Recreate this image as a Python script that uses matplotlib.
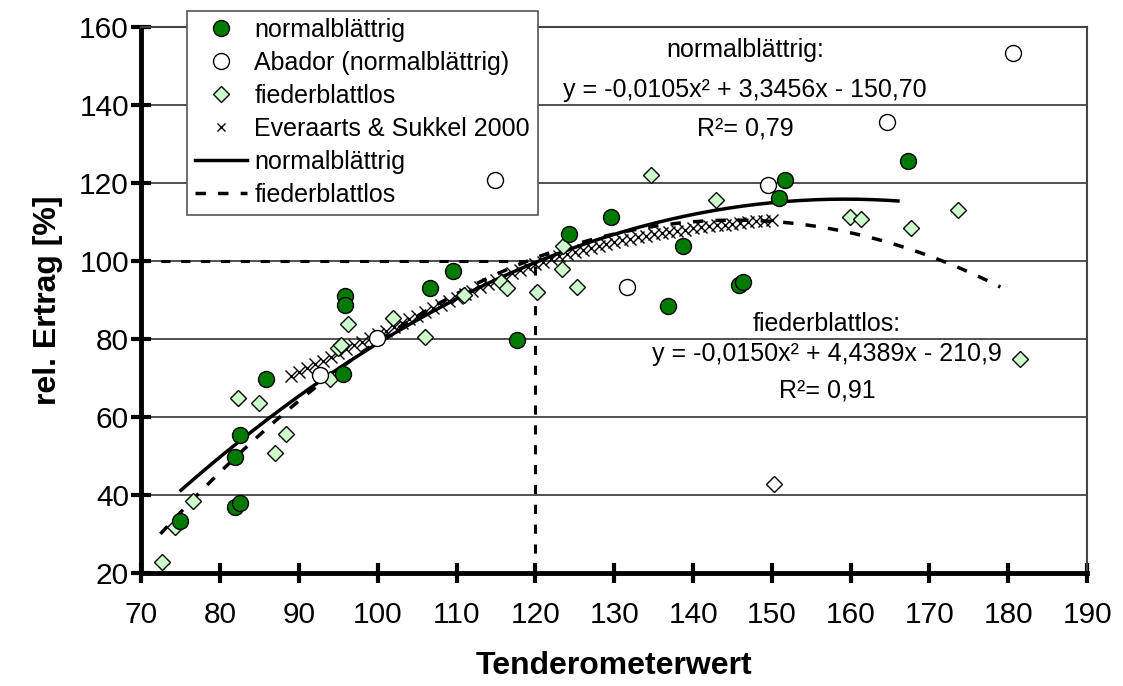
import matplotlib.pyplot as plt
from matplotlib.lines import Line2D
import numpy as np

plt.rcParams['font.family'] = ['Liberation Sans', 'DejaVu Sans']

# normalblättrige Sorten
normal_x = [74.9, 81.9, 82.5, 81.9, 82.5, 85.8, 95.8, 95.8, 95.6, 106.6, 109.5,
            117.7, 124.3, 129.6, 136.8, 138.7, 145.8, 146.3, 150.9, 151.7, 167.3]
normal_y = [33.2, 49.8, 55.4, 36.8, 37.8, 69.7, 90.9, 88.6, 71.0, 93.0, 97.3,
            79.7, 106.8, 111.1, 88.4, 103.7, 93.7, 94.5, 116.0, 120.6, 125.6]

# Abador
abador_x = [92.7, 99.9, 114.9, 131.6, 149.5, 164.6, 180.6]
abador_y = [70.8, 80.2, 120.8, 93.2, 119.5, 135.6, 153.2]

# fiederblattlose Sorten
fieder_x = [72.6, 74.3, 76.5, 82.2, 84.9, 86.9, 88.3, 93.9, 94.9, 95.3, 96.2,
            101.9, 106.0, 110.9, 115.6, 116.4, 120.2, 123.4, 123.5, 125.3,
            134.7, 142.9, 159.9, 161.3, 167.7, 173.6, 181.5]
fieder_y = [22.7, 31.7, 38.3, 64.8, 63.6, 50.6, 55.7, 69.7, 77.7, 78.4, 83.8,
            85.3, 80.5, 91.2, 94.5, 93.0, 91.9, 97.8, 103.9, 93.2,
            122.1, 115.7, 111.1, 110.8, 108.3, 113.1, 74.8]
fieder_weiss_x = [150.3]
fieder_weiss_y = [42.7]

# Everaarts & Sukkel 2000
ev_x = list(range(89, 151))
ev_y = [70.5, 71.5, 72.5, 73.5, 74.4, 75.4, 76.4, 77.3, 78.3, 79.3, 80.2,
        81.2, 82.1, 83.1, 84.0, 85.0, 85.9, 86.8, 87.8, 88.7, 89.6,
        90.5, 91.4, 92.3, 93.2, 94.1, 95.0, 95.9, 96.8, 97.6, 98.4,
        99.1, 99.8, 100.5, 101.1, 101.7, 102.3, 102.8, 103.3, 103.8, 104.3,
        104.8, 105.2, 105.6, 106.0, 106.4, 106.8, 107.1, 107.4, 107.7, 108.0,
        108.3, 108.6, 108.9, 109.1, 109.3, 109.5, 109.7, 109.9, 110.1, 110.3,
        110.5]

# Trendlinien (Polynom 2. Grades)
normal_coef = [-0.0105, 3.3456, -150.70]
normal_range = [75, 166]
fieder_coef = [-0.01513, 4.3975, -209.1]
fieder_range = [72.4, 179]

green = '#007A00'
light = '#CCFFCC'

fig = plt.figure(figsize=(11.23, 6.86), dpi=100)
ax = fig.add_axes([0.126, 0.165, 0.842, 0.796])

ax.set_xlim(70, 190)
ax.set_ylim(20, 160)
ax.set_xticks(range(70, 191, 10))
ax.set_yticks(range(20, 161, 20))
ax.yaxis.grid(True, color='#333333', lw=1.2, zorder=0)
ax.set_axisbelow(True)

for s in ['left', 'bottom']:
    ax.spines[s].set_linewidth(3.5)
for s in ['top', 'right']:
    ax.spines[s].set_linewidth(1.5)
    ax.spines[s].set_color('#444444')
ax.tick_params(direction='inout', length=14, width=3, labelsize=21.5)
ax.tick_params(axis='x', pad=13)
ax.tick_params(axis='y', pad=2)

# Hilfslinien bei 120 / 100 %
ax.plot([70, 120], [100, 100], color='k', lw=2.2, dashes=(3, 3.5), zorder=2)
ax.plot([120, 120], [20, 100], color='k', lw=2.2, dashes=(3, 3.5), zorder=2)

xn = np.linspace(normal_range[0], normal_range[1], 200)
ax.plot(xn, np.polyval(normal_coef, xn), color='k', lw=2.5, zorder=4)
xf = np.linspace(fieder_range[0], fieder_range[1], 200)
ax.plot(xf, np.polyval(fieder_coef, xf), color='k', lw=2.5, dashes=(3, 3.5), zorder=4)

ax.plot(ev_x, ev_y, 'x', color='k', ms=8, mew=1, zorder=5)
ax.plot(fieder_x, fieder_y, 'D', ms=8.5, mfc=light, mec='k', mew=1, ls='none', zorder=6)
ax.plot(fieder_weiss_x, fieder_weiss_y, 'D', ms=8.5, mfc='white', mec='k', mew=1, ls='none', zorder=6)
ax.plot(abador_x, abador_y, 'o', ms=11.5, mfc='white', mec='k', mew=1, ls='none', zorder=7)
ax.plot(normal_x, normal_y, 'o', ms=11.5, mfc=green, mec='k', mew=1, ls='none', zorder=8)

ax.text(146.6, 154.0, 'normalblättrig:', ha='center', va='center', fontsize=18)
ax.text(146.6, 143.8, 'y = -0,0105x² + 3,3456x - 150,70', ha='center', va='center', fontsize=18)
ax.text(146.6, 133.9, 'R²= 0,79', ha='center', va='center', fontsize=18)
ax.text(157.0, 83.8, 'fiederblattlos:', ha='center', va='center', fontsize=18)
ax.text(157.0, 76.1, 'y = -0,0150x² + 4,4389x - 210,9', ha='center', va='center', fontsize=18)
ax.text(157.0, 66.7, 'R²= 0,91', ha='center', va='center', fontsize=18)

ax.set_xlabel('Tenderometerwert', fontsize=23, fontweight='bold', labelpad=16)
ax.set_ylabel('rel. Ertrag [%]', fontsize=23, fontweight='bold', labelpad=12)

handles = [
    Line2D([], [], marker='o', ms=11.5, mfc=green, mec='k', ls='none'),
    Line2D([], [], marker='o', ms=11.5, mfc='white', mec='k', ls='none'),
    Line2D([], [], marker='D', ms=8.5, mfc=light, mec='k', ls='none'),
    Line2D([], [], marker='x', ms=6, color='k', mew=1, ls='none'),
    Line2D([], [], color='k', lw=2.5),
    Line2D([], [], color='k', lw=2.5, dashes=(3, 3.5)),
]
labels = ['normalblättrig', 'Abador (normalblättrig)', 'fiederblattlos',
          'Everaarts & Sukkel 2000', 'normalblättrig', 'fiederblattlos']
leg = ax.legend(handles, labels, loc='upper left',
                bbox_to_anchor=(187 / 1123, 1 - 10.7 / 686),
                bbox_transform=fig.transFigure, fontsize=18, frameon=True,
                fancybox=False, edgecolor='#555555', framealpha=1,
                handlelength=2.1, labelspacing=0.36, borderpad=0.3,
                handletextpad=0.3, borderaxespad=0)
leg.get_frame().set_linewidth(1.2)
leg.set_zorder(3)

fig.savefig('out.png', dpi=100)
